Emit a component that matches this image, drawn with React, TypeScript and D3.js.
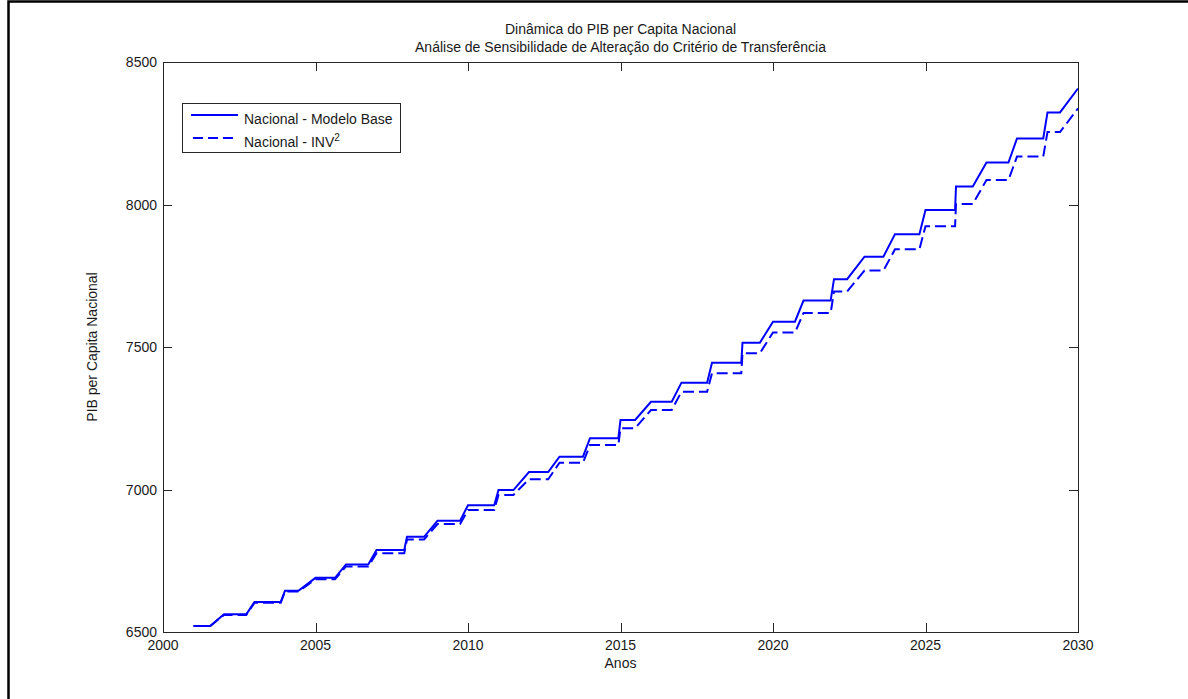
import React from "react";
import * as d3 from "d3";

// Calendar years at which each annual level is reached
const years = [
  2001, 2002, 2003, 2004, 2005, 2006, 2007, 2008, 2009, 2010,
  2011, 2012, 2013, 2014, 2015, 2016, 2017, 2018, 2019, 2020,
  2021, 2022, 2023, 2024, 2025, 2026, 2027, 2028, 2029, 2030,
];

// GDP per capita level held during each year – base model
const baseLevels = [
  6521, 6562, 6605, 6645, 6690, 6737, 6788, 6834, 6890, 6945,
  6998, 7061, 7115, 7180, 7244, 7308, 7375, 7445, 7515, 7589,
  7663, 7738, 7817, 7896, 7981, 8063, 8147, 8232, 8323, 8407,
];

// GDP per capita level held during each year – INV^2 transfer criterion
const inv2Levels = [
  6521, 6560, 6603, 6642, 6685, 6730, 6776, 6825, 6879, 6928,
  6981, 7036, 7094, 7156, 7215, 7279, 7343, 7408, 7478, 7551,
  7619, 7695, 7768, 7843, 7924, 8002, 8086, 8168, 8254, 8337,
];

// Time at which the transition towards the next year's level begins
const rampStarts = [
  2001.55, 2002.73, 2003.86, 2004.44, 2005.64, 2006.73, 2007.91, 2008.56,
  2009.74, 2010.86, 2011.49, 2012.63, 2013.77, 2014.93, 2015.48, 2016.68,
  2017.84, 2018.96, 2019.57, 2020.72, 2021.89, 2022.43, 2023.62, 2024.8,
  2025.97, 2026.55, 2027.72, 2028.86, 2029.41,
];

const xTicks = [2000, 2005, 2010, 2015, 2020, 2025, 2030];
const yTicks = [6500, 7000, 7500, 8000, 8500];

const titleLines = [
  "Dinâmica do PIB per Capita Nacional",
  "Análise de Sensibilidade de Alteração do Critério de Transferência",
];

type Pt = [number, number];

// Build the staircase polyline: level held, then linear transition to the next level
function stairPoints(levels: number[]): Pt[] {
  const pts: Pt[] = [];
  for (let i = 0; i < years.length; i++) {
    pts.push([years[i], levels[i]]);
    if (i < rampStarts.length) pts.push([rampStarts[i], levels[i]]);
  }
  return pts;
}

const W = 1188;
const H = 699;
const margin = { left: 163, right: 1078, top: 62, bottom: 632 };
const FONT = "'Liberation Sans', Arial, Helvetica, sans-serif";
const FS = 14;
const AXIS = "#262626";
const TEXT = "#1a1a1a";
const BLUE = "#0000ff";

export default function App() {
  const x = d3.scaleLinear().domain([2000, 2030]).range([margin.left, margin.right]);
  const y = d3.scaleLinear().domain([6500, 8500]).range([margin.bottom, margin.top]);
  const line = d3
    .line<Pt>()
    .x((d) => x(d[0]))
    .y((d) => y(d[1]));

  const basePath = line(stairPoints(baseLevels)) || "";
  const inv2Path = line(stairPoints(inv2Levels)) || "";
  const tickLen = 9;
  const cx = (margin.left + margin.right) / 2;

  return (
    <svg
      width={W}
      height={H}
      style={{ position: "absolute", left: 0, top: 0, background: "#fff" }}
      fontFamily={FONT}
    >
      <rect x={0} y={0} width={W} height={H} fill="#fff" />
      {/* outer frame */}
      <path d={`M8.5,${H} V1.5 H${W}`} fill="none" stroke="#000" strokeWidth={2.5} />

      {/* title */}
      {titleLines.map((t, i) => (
        <text key={i} x={cx} y={34 + i * 18} textAnchor="middle" fontSize={FS} fill={TEXT}>
          {t}
        </text>
      ))}

      {/* series */}
      <defs>
        <clipPath id="plotClip">
          <rect
            x={margin.left}
            y={margin.top - 2}
            width={margin.right - margin.left + 2}
            height={margin.bottom - margin.top + 4}
          />
        </clipPath>
      </defs>
      <g clipPath="url(#plotClip)">
        <path d={basePath} fill="none" stroke={BLUE} strokeWidth={2} />
        <path d={inv2Path} fill="none" stroke={BLUE} strokeWidth={2} strokeDasharray="11,5" />
      </g>

      {/* axes box */}
      <rect
        x={margin.left + 0.5}
        y={margin.top + 0.5}
        width={margin.right - margin.left}
        height={margin.bottom - margin.top}
        fill="none"
        stroke={AXIS}
        strokeWidth={1}
      />

      {/* x ticks */}
      {xTicks.map((t) => {
        const px = Math.round(x(t)) + 0.5;
        return (
          <g key={`x${t}`}>
            <line x1={px} x2={px} y1={margin.bottom} y2={margin.bottom - tickLen} stroke={AXIS} />
            <line x1={px} x2={px} y1={margin.top} y2={margin.top + tickLen} stroke={AXIS} />
            <text x={x(t)} y={margin.bottom + 18} textAnchor="middle" fontSize={FS} fill={TEXT}>
              {t}
            </text>
          </g>
        );
      })}

      {/* y ticks */}
      {yTicks.map((t) => {
        const py = Math.round(y(t)) + 0.5;
        return (
          <g key={`y${t}`}>
            <line x1={margin.left} x2={margin.left + tickLen} y1={py} y2={py} stroke={AXIS} />
            <line x1={margin.right} x2={margin.right - tickLen} y1={py} y2={py} stroke={AXIS} />
            <text x={margin.left - 6} y={y(t) + 5} textAnchor="end" fontSize={FS} fill={TEXT}>
              {t}
            </text>
          </g>
        );
      })}

      {/* axis labels */}
      <text x={cx} y={668} textAnchor="middle" fontSize={FS} fill={TEXT}>
        Anos
      </text>
      <text
        transform={`translate(97, ${(margin.top + margin.bottom) / 2}) rotate(-90)`}
        textAnchor="middle"
        fontSize={FS}
        fill={TEXT}
      >
        PIB per Capita Nacional
      </text>

      {/* legend */}
      <g>
        <rect x={182.5} y={103.5} width={218} height={49} fill="#fff" stroke={AXIS} strokeWidth={1} />
        <line x1={191} x2={238} y1={115} y2={115} stroke={BLUE} strokeWidth={2} />
        <text x={244} y={124} fontSize={FS} fill={TEXT}>
          Nacional - Modelo Base
        </text>
        <line x1={193} x2={238} y1={138} y2={138} stroke={BLUE} strokeWidth={2} strokeDasharray="10,5" />
        <text x={244} y={147} fontSize={FS} fill={TEXT}>
          Nacional - INV<tspan dy={-6} fontSize={10}>2</tspan>
        </text>
      </g>
    </svg>
  );
}
